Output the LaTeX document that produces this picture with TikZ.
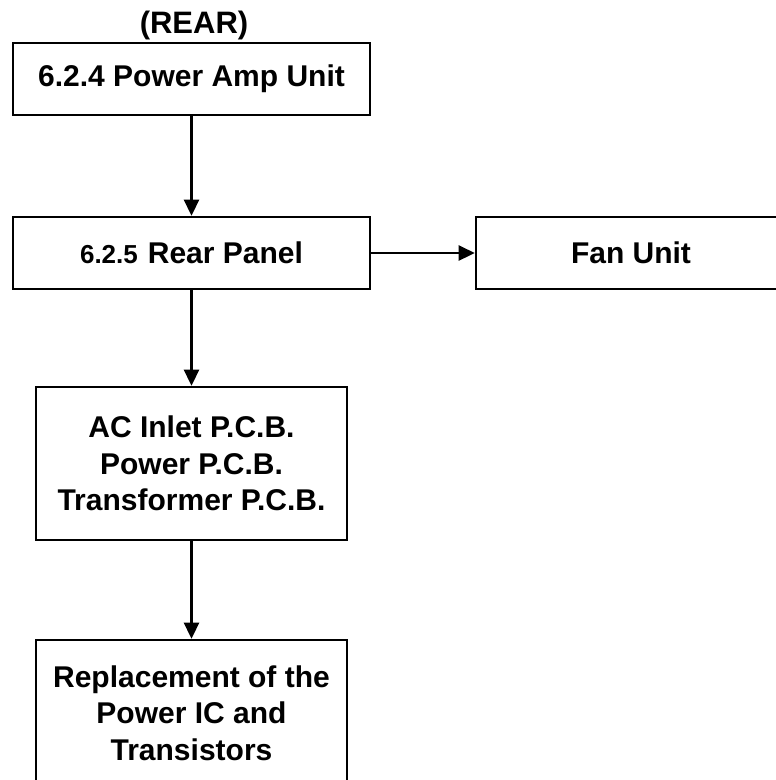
\documentclass[tikz,border=0pt]{standalone}
\usepackage{fontspec}
\setmainfont{Liberation Sans}
\usetikzlibrary{arrows.meta}
\begin{document}
\begin{tikzpicture}[x=1pt,y=-1pt,
  box/.style={draw=black, line width=2.6pt, fill=white, inner sep=0pt, align=center,
    font=\fontsize{30}{36.5}\selectfont\bfseries},
  conn/.style={line width=2.6pt, -{Triangle[width=15pt,length=16pt]}}]
\useasboundingbox (0,0) rectangle (776,780);
\clip (0,0) rectangle (776,780);
\node[font=\fontsize{31}{35}\selectfont\bfseries, anchor=base] (rear) at (194,33) {(REAR)};
\node[box, minimum width=357pt, minimum height=72pt] (pa) at (191.5,79) {6.2.4 Power Amp Unit};
\node[box, minimum width=357pt, minimum height=72pt] (rp) at (191.5,253) {{\fontsize{26}{30}\selectfont 6.2.5}\hspace{10pt}Rear Panel};
\node[box, minimum width=310pt, minimum height=72pt] (fan) at (631,253) {Fan Unit};
\node[box, minimum width=311pt, minimum height=153pt] (ac) at (191.5,463.5) {AC Inlet P.C.B.\\Power P.C.B.\\Transformer P.C.B.};
\node[box, minimum width=311pt, minimum height=146pt] (rep) at (191.5,713) {Replacement of the\\Power IC and\\Transistors};
\draw[conn] (pa.south) -- (rp.north);
\draw[conn] (rp.east) -- (fan.west);
\draw[conn] (rp.south) -- (ac.north);
\draw[conn] (ac.south) -- (rep.north);
\end{tikzpicture}
\end{document}
